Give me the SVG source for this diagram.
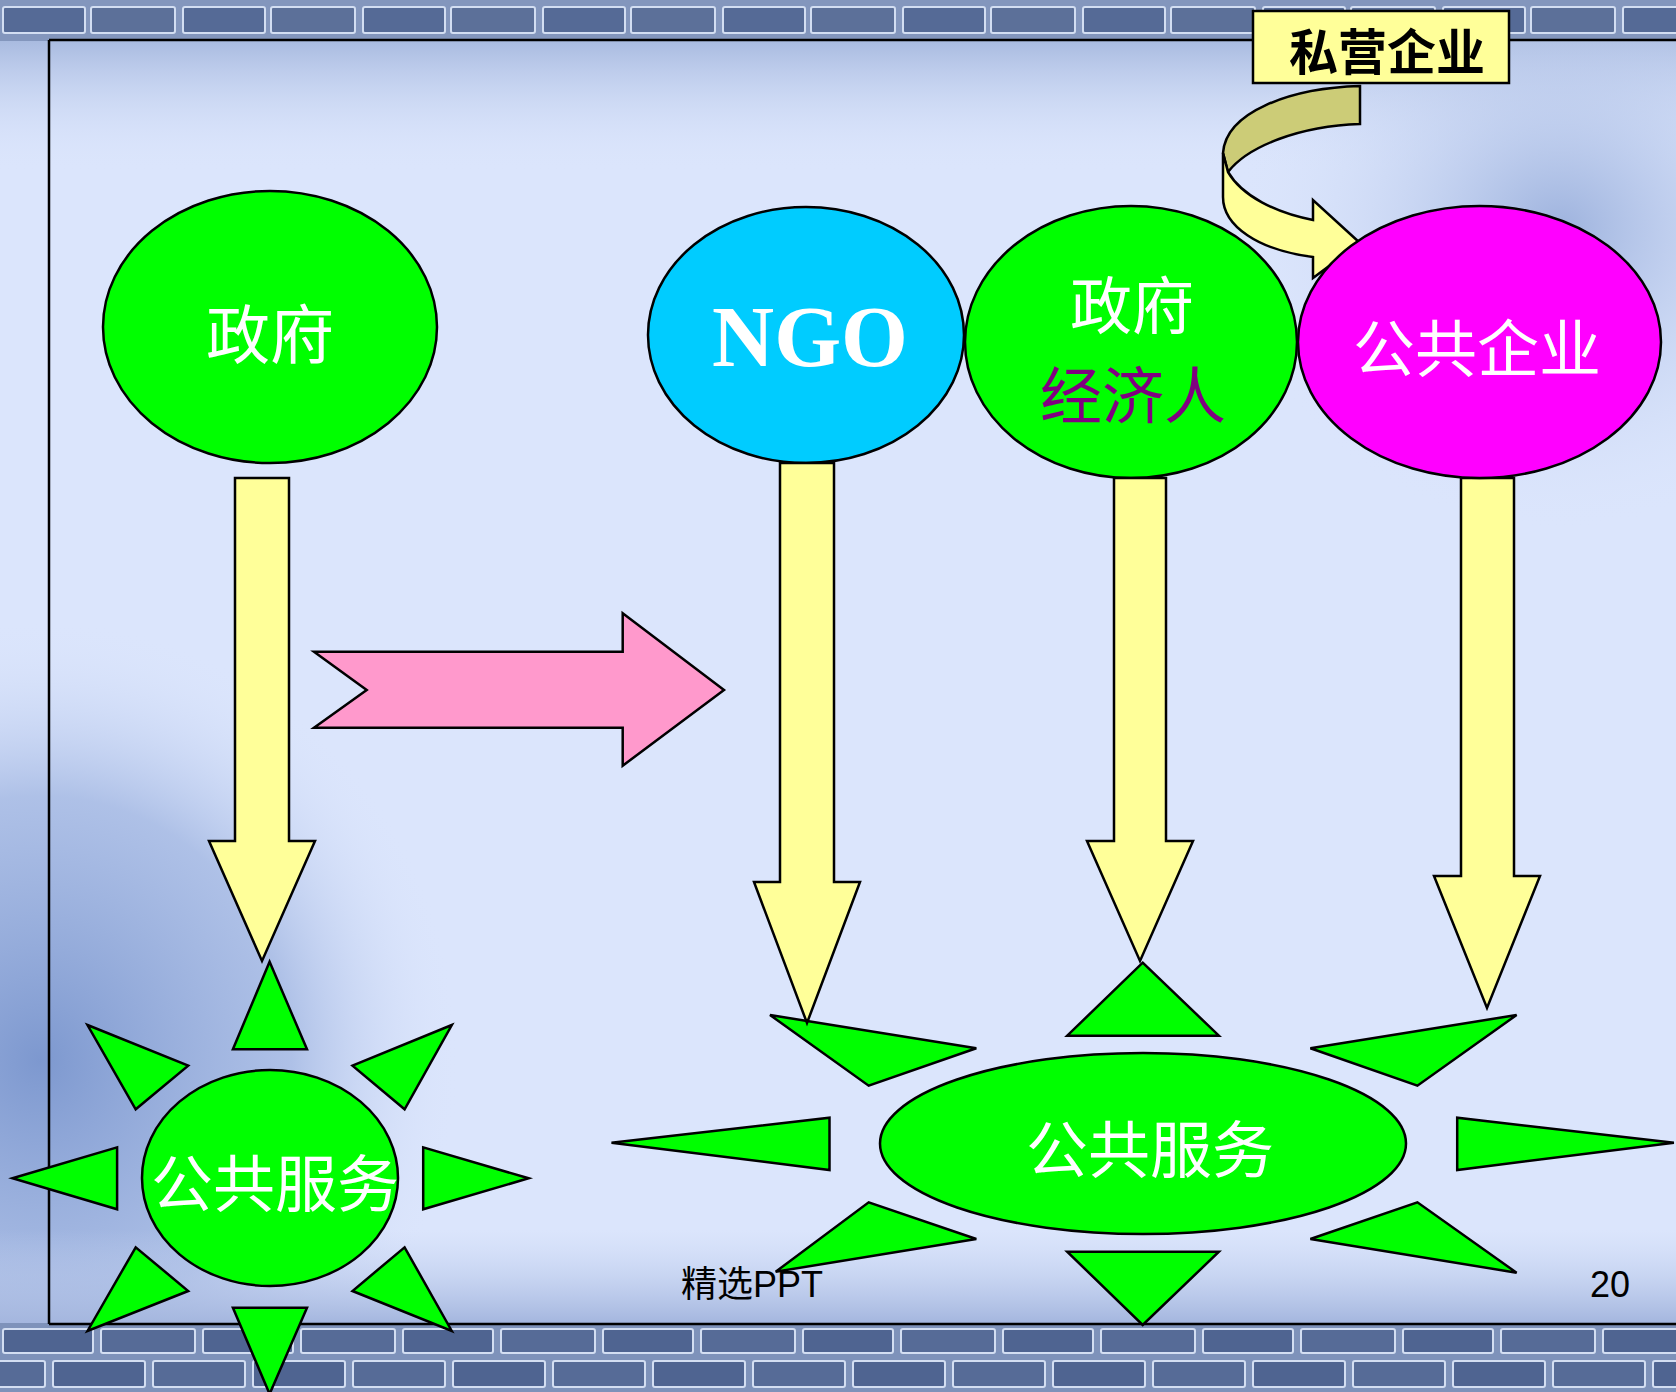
<svg xmlns="http://www.w3.org/2000/svg" width="1676" height="1392" viewBox="0 0 1676 1392">
<defs>
<style>
.s{stroke:#000;stroke-width:2.5;stroke-linejoin:miter}
.g{fill:#00ff00}
.y{fill:#ffff99}
.cjk{font-family:"Noto Sans CJK SC","Noto Sans CJK TC",sans-serif;text-anchor:middle}
.w{fill:#fff}
.foot{font-family:"Liberation Sans","Noto Sans CJK SC",sans-serif;font-size:36px;fill:#000}
</style>
<pattern id="bricksTop" patternUnits="userSpaceOnUse" x="0" y="0" width="180" height="41">
<rect width="180" height="41" fill="#8396bd"/>
<rect x="3" y="7" width="82" height="26" rx="2" fill="#556a96" stroke="#d3def2" stroke-width="2"/>
<rect x="91" y="7" width="84" height="26" rx="2" fill="#5c7099" stroke="#d3def2" stroke-width="2"/>
</pattern>
<pattern id="bricksBot" patternUnits="userSpaceOnUse" x="0" y="1323" width="200" height="70">
<rect width="200" height="70" fill="#7e92ba"/>
<rect x="3" y="6" width="90" height="24" rx="2" fill="#4f6491" stroke="#d3def2" stroke-width="2"/>
<rect x="101" y="6" width="94" height="24" rx="2" fill="#566b97" stroke="#d3def2" stroke-width="2"/>
<rect x="-45" y="38" width="90" height="26" rx="2" fill="#566b97" stroke="#d3def2" stroke-width="2"/>
<rect x="53" y="38" width="92" height="26" rx="2" fill="#4f6491" stroke="#d3def2" stroke-width="2"/>
<rect x="153" y="38" width="92" height="26" rx="2" fill="#566b97" stroke="#d3def2" stroke-width="2"/>
</pattern>
<linearGradient id="topShade" x1="0" y1="0" x2="0" y2="1">
<stop offset="0" stop-color="#a9bbe0"/>
<stop offset="1" stop-color="#dbe5fc" stop-opacity="0"/>
</linearGradient>
<linearGradient id="botShade" x1="0" y1="0" x2="0" y2="1">
<stop offset="0" stop-color="#c3d1f0" stop-opacity="0"/>
<stop offset="1" stop-color="#a4b6de"/>
</linearGradient>
<radialGradient id="blPhoto" cx="0.5" cy="0.5" r="0.5">
<stop offset="0" stop-color="#7d98cf"/>
<stop offset="0.6" stop-color="#9bb1de" stop-opacity="0.7"/>
<stop offset="1" stop-color="#dbe5fc" stop-opacity="0"/>
</radialGradient>
<radialGradient id="trPhoto" cx="0.5" cy="0.5" r="0.5">
<stop offset="0" stop-color="#9db2dd"/>
<stop offset="1" stop-color="#dbe5fc" stop-opacity="0"/>
</radialGradient>
</defs>

<g id="background">
<rect width="1676" height="1392" fill="#dbe5fc"/>
<rect x="0" y="41" width="1676" height="130" fill="url(#topShade)"/>
<ellipse cx="40" cy="1060" rx="420" ry="440" fill="url(#blPhoto)"/>
<ellipse cx="1560" cy="230" rx="330" ry="300" fill="url(#trPhoto)"/>
<rect x="0" y="1230" width="1676" height="93" fill="url(#botShade)"/>
<rect x="0" y="0" width="1676" height="41" fill="url(#bricksTop)"/>
<rect x="0" y="1323" width="1676" height="69" fill="url(#bricksBot)"/>
<g stroke="#000" stroke-width="2.5" fill="none">
<line x1="49" y1="40" x2="1676" y2="40"/>
<line x1="49" y1="40" x2="49" y2="1324"/>
<line x1="49" y1="1324" x2="1676" y2="1324"/>
</g>
</g>

<g id="node-sun-left">
<g class="s g">
<polygon points="269.6,961.7 307,1049.3 232.9,1049.3"/>
<polygon points="87.5,1025 188.2,1065.7 135.7,1109.3"/>
<polygon points="451.8,1025 352.5,1065.7 404.6,1109.3"/>
<polygon points="12.5,1178.3 117.1,1147.3 117.1,1209.3"/>
<polygon points="528.6,1178.3 423.2,1147.3 423.2,1209.3"/>
<polygon points="87.5,1331 135.7,1247.3 188.2,1291"/>
<polygon points="451.8,1331 404.6,1247.3 352.5,1291"/>
<polygon points="232.9,1307.7 307,1307.7 269.6,1394"/>
<ellipse cx="270" cy="1178" rx="128" ry="108"/>
</g>
<text class="cjk w" x="275" y="1207" font-size="62">公共服务</text>
</g>

<g id="node-sun-right">
<g class="s g">
<polygon points="1142.7,962.7 1218.9,1035.7 1067.2,1035.7"/>
<polygon points="770,1015 976.3,1048.3 868.7,1085.7"/>
<polygon points="1516.6,1015 1310.4,1048.3 1417.4,1085.7"/>
<polygon points="611.5,1142.7 829.5,1117.7 829.5,1170"/>
<polygon points="1673.9,1142.7 1457.2,1117.7 1457.2,1170"/>
<polygon points="775.7,1271.7 868.7,1202.3 976.3,1239"/>
<polygon points="1516.6,1272.7 1417.4,1202.3 1310.4,1239"/>
<polygon points="1067.2,1251.7 1218.9,1251.7 1142.7,1325"/>
<ellipse cx="1143" cy="1143.5" rx="263" ry="90.5"/>
</g>
<text class="cjk w" x="1150" y="1173" font-size="62">公共服务</text>
</g>

<g id="node-gov">
<ellipse class="s g" cx="270" cy="327" rx="167" ry="136"/>
<text class="cjk w" x="270" y="358" font-size="64">政府</text>
</g>

<g id="node-ngo">
<ellipse class="s" fill="#00ccff" cx="806" cy="335" rx="158" ry="128"/>
<text x="810" y="366" font-family="'Liberation Serif',serif" font-weight="bold" font-size="86" fill="#fff" text-anchor="middle">NGO</text>
</g>

<g id="node-gov-econ">
<ellipse class="s g" cx="1131" cy="342" rx="166" ry="136"/>
<text class="cjk w" x="1132" y="329" font-size="62">政府</text>
<text class="cjk" x="1133" y="419" font-size="62" fill="#800080">经济人</text>
</g>

<g id="node-private">
<rect x="1253" y="11" width="256" height="72" class="s y"/>
<text class="cjk" x="1387" y="70" font-size="49" font-weight="bold" fill="#000">私营企业</text>
</g>

<g id="connectors">
<path class="s" fill="#cccc77" d="M1360,86 C1290,88 1226,112 1223,153 L1228,172 C1248,146 1300,126 1360,124 Z"/>
<path class="s y" d="M1223,153 L1228,172 C1242,196 1276,213 1313,220 L1313,200 L1360,243 L1313,278 L1313,257 C1258,250 1223,226 1223,197 Z"/>
<polygon class="s" fill="#ff99cc" points="314,651.7 622.7,651.7 622.7,613.3 724,690 622.7,765.7 622.7,727.7 314,727.7 366.7,690"/>
<polygon class="s y" points="235,478 289,478 289,841 315,841 262,961 209,841 235,841"/>
<polygon class="s y" points="780,463 834,463 834,882 860,882 807,1023 754,882 780,882"/>
<polygon class="s y" points="1114,478 1166,478 1166,841 1193,841 1140,961 1087,841 1114,841"/>
<polygon class="s y" points="1461,478 1514,478 1514,876 1540,876 1487,1008 1434,876 1461,876"/>
</g>

<g id="node-public-enterprise">
<ellipse class="s" fill="#ff00ff" cx="1479.5" cy="342" rx="181.5" ry="136"/>
<text class="cjk w" x="1477" y="372" font-size="62">公共企业</text>
</g>

<g id="footer">
<text class="foot" x="681" y="1297">精选PPT</text>
<text class="foot" x="1590" y="1297">20</text>
</g>
</svg>
